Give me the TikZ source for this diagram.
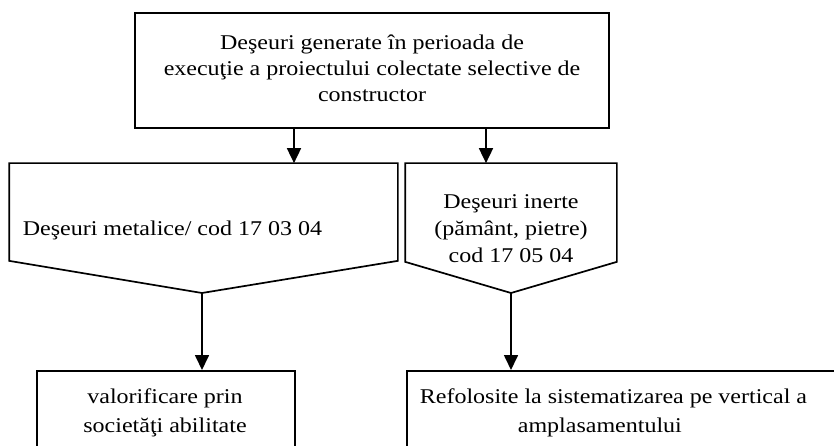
\documentclass[tikz,border=0pt]{standalone}
\usepackage{fontspec}
\setmainfont{Liberation Serif}[FakeStretch=1.143]
\usetikzlibrary{arrows.meta}
\begin{document}
\begin{tikzpicture}[x=1pt,y=-1pt,line width=1.7pt,
  arr/.style={-{Triangle[width=14pt,length=15pt]},line width=1.7pt},
  txt/.style={inner sep=0pt,font=\fontsize{21}{26}\selectfont},
  boxline/.style={draw,line width=1.7pt,inner sep=0pt},
  area/.style={inner sep=0pt}]
\useasboundingbox (0,0) rectangle (834,446);
\clip (0,0) rectangle (834,446);
% top box
\node[boxline,minimum width=474pt,minimum height=115pt] (top) at (372,70.5) {};
\node[txt,align=center,anchor=base] (topText) at (372,102)
  {Deşeuri generate în perioada de\\execuţie a proiectului colectate selective de\\constructor};
% left pentagon
\coordinate (metTip) at (202,293);
\node[area,minimum width=387pt,minimum height=96pt] (met) at (203.5,212) {};
\draw (met.north west) -- (met.north east) -- (met.south east) -- (metTip) -- (met.south west) -- cycle;
\node[txt,anchor=base west] (metText) at (22,235) {Deşeuri metalice/ cod 17 03 04};
% right pentagon
\coordinate (inTip) at (511,293);
\node[area,minimum width=210pt,minimum height=97pt] (in) at (511,212.5) {};
\draw (in.north west) -- (in.north east) -- (in.south east) -- (inTip) -- (in.south west) -- cycle;
\node[txt,align=center,anchor=base,font=\fontsize{21}{27}\selectfont] (inText) at (511,262)
  {Deşeuri inerte\\(pământ, pietre)\\cod 17 05 04};
% bottom boxes
\node[boxline,anchor=north west,minimum width=258pt,minimum height=120pt] (valBox) at (36,370) {};
\node[txt,align=center,anchor=base,font=\fontsize{21}{29}\selectfont] (valText) at (165,432)
  {valorificare prin\\societăţi abilitate};
\node[boxline,anchor=north west,minimum width=460pt,minimum height=120pt] (refBox) at (406,370) {};
\node[txt,align=left,anchor=base west,font=\fontsize{21}{29}\selectfont] (refText) at (419,432)
  {Refolosite la sistematizarea pe vertical a\\\hspace*{98pt}amplasamentului};
% connectors
\coordinate (j1) at (294,0);
\coordinate (j2) at (486,0);
\draw[arr] (top.south -| j1) -- (met.north -| j1);
\draw[arr] (top.south -| j2) -- (in.north -| j2);
\draw[arr] (metTip) -- (metTip |- valBox.north);
\draw[arr] (inTip) -- (inTip |- refBox.north);
\end{tikzpicture}
\end{document}
